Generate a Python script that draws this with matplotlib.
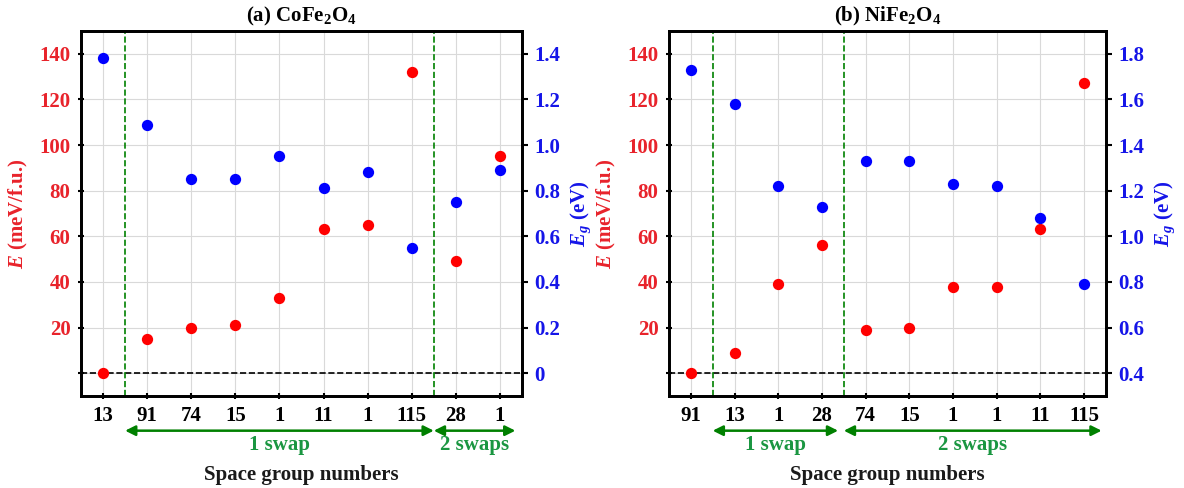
import matplotlib
matplotlib.use("Agg")
import matplotlib.pyplot as plt

plt.rcParams['font.family'] = ['Liberation Serif', 'DejaVu Serif']
plt.rcParams['mathtext.fontset'] = 'custom'
plt.rcParams['mathtext.rm'] = 'Liberation Serif:bold'
plt.rcParams['mathtext.it'] = 'Liberation Serif:bold:italic'
plt.rcParams['mathtext.bf'] = 'Liberation Serif:bold'

# ---------------- data ----------------
labels_a = ["13", "91", "74", "15", "1", "11", "1", "115", "28", "1"]
E_a = [0, 15, 20, 21, 33, 63, 65, 132, 49, 95]
Eg_a = [1.38, 1.09, 0.85, 0.85, 0.95, 0.81, 0.88, 0.55, 0.75, 0.89]

labels_b = ["91", "13", "1", "28", "74", "15", "1", "1", "11", "115"]
E_b = [0, 9, 39, 56, 19, 20, 38, 38, 63, 127]
Eg_b = [1.73, 1.58, 1.22, 1.13, 1.33, 1.33, 1.23, 1.22, 1.08, 0.79]

E_ticks = [0, 20, 40, 60, 80, 100, 120, 140]
Eg_ticks_a = [0, 0.2, 0.4, 0.6, 0.8, 1.0, 1.2, 1.4]
Eg_ticks_b = [0.4, 0.6, 0.8, 1.0, 1.2, 1.4, 1.6, 1.8]

titles = ["(a) CoFe$_\\mathregular{2}$O$_\\mathregular{4}$", "(b) NiFe$_\\mathregular{2}$O$_\\mathregular{4}$"]
dividers_a = [0.5, 7.5]
dividers_b = [0.5, 3.5]
groups_a = [("1 swap", 0.5, 7.5), ("2 swaps", 7.5, 9.35)]
groups_b = [("1 swap", 0.5, 3.37), ("2 swaps", 3.5, 9.4)]

RED = '#ff0000'
RED_TXT = '#e8232b'
BLUE = '#0000ff'
BLUE_TXT = '#1515e8'
GREEN = '#008000'
GREEN_TXT = '#1a9641'

fig = plt.figure(figsize=(11.84, 4.88), dpi=100)
axes_pos = [[81/1184, 92/488, 441/1184, 365/488],
            [669/1184, 92/488, 437/1184, 365/488]]

panels = [
    (labels_a, E_a, Eg_a, Eg_ticks_a, (-0.1, 1.5), dividers_a, groups_a, titles[0], ["0", "0.2", "0.4", "0.6", "0.8", "1.0", "1.2", "1.4"]),
    (labels_b, E_b, Eg_b, Eg_ticks_b, (0.3, 1.9), dividers_b, groups_b, titles[1], ["0.4", "0.6", "0.8", "1.0", "1.2", "1.4", "1.6", "1.8"]),
]

for pos, (labels, E, Eg, egt, eglim, divs, groups, title, eglabels) in zip(axes_pos, panels):
    ax = fig.add_axes(pos)
    x = list(range(len(labels)))
    ax.set_xlim(-0.5, len(labels) - 0.5)
    ax.set_ylim(-10, 150)
    ax.set_xticks(x)
    ax.set_xticklabels(labels, fontsize=15, fontweight='bold')
    ax.set_yticks(E_ticks)
    ax.set_yticklabels([""] + [str(t) for t in E_ticks[1:]], fontsize=15,
                       fontweight='bold', color=RED_TXT)
    ax.grid(True, color='#d9d9d9', linewidth=0.8)
    ax.set_axisbelow(True)
    ax.tick_params(axis='x', direction='inout', length=4, width=1.5, pad=5)
    ax.tick_params(axis='y', direction='inout', length=5, width=1.5, pad=5)
    for s in ax.spines.values():
        s.set_linewidth(2)
    ax.axhline(0, color='black', linestyle='--', linewidth=1.2, zorder=2)
    for d in divs:
        ax.axvline(d, color=GREEN, linestyle='--', linewidth=1.2, zorder=2)
    ax.scatter(x, E, s=66, color=RED, zorder=4, linewidths=0)
    ax.set_ylabel("$\\mathit{E}$ (meV/f.u.)", fontsize=15, fontweight='bold',
                  color=RED_TXT, labelpad=7)
    ax.set_title(title, fontsize=15, fontweight='bold', pad=7)
    ax.set_xlabel("Space group numbers", fontsize=15, fontweight='bold',
                  color='#1a1a1a', labelpad=28)

    tr = ax.get_xaxis_transform()
    for name, x0, x1 in groups:
        ax.annotate("", xy=(x1, -0.095), xytext=(x0, -0.095), xycoords=tr,
                    textcoords=tr, annotation_clip=False,
                    arrowprops=dict(arrowstyle='<|-|>', color=GREEN, lw=1.8,
                                    mutation_scale=15, shrinkA=0, shrinkB=0))
        ax.text((x0 + x1) / 2, -0.135, name, transform=tr, ha='center',
                va='center', fontsize=15, fontweight='bold', color=GREEN_TXT)

    ax2 = ax.twinx()
    ax2.set_ylim(*eglim)
    ax2.scatter(x, Eg, s=66, color=BLUE, zorder=4, linewidths=0)
    ax2.set_yticks(egt)
    ax2.set_yticklabels(eglabels, fontsize=15, fontweight='bold', color=BLUE_TXT)
    ax2.tick_params(axis='y', direction='out', length=4, width=1.5, pad=5)
    ax2.set_ylabel("$\\mathit{E}_\\mathit{g}$ (eV)", fontsize=15, fontweight='bold',
                   color=BLUE_TXT, labelpad=6)
    for s in ax2.spines.values():
        s.set_linewidth(2)

fig.savefig("out.png", dpi=100)
